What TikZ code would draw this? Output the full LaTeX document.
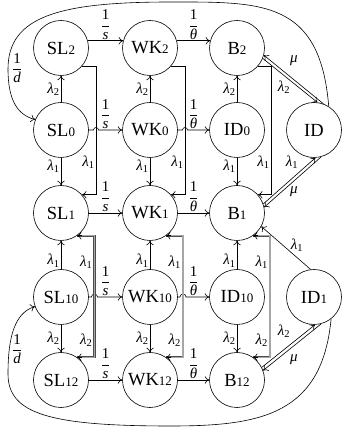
\documentclass[tikz,border=0pt]{standalone}
\usepackage{fontspec}
\setmainfont{Liberation Serif}
\usetikzlibrary{arrows.meta,calc}
\newcommand\nlab[2]{{\fontsize{18.5}{19}\selectfont #1}{\fontsize{13}{13}\selectfont #2}}
\newcommand\lam[1]{{\itshape λ}\textsubscript{#1}}
\newcommand\fr[1]{$\displaystyle\frac{\mbox{1}}{\mbox{\itshape #1}}$}
\begin{document}
\begin{tikzpicture}[x=1pt,y=1pt,
  st/.style={circle,draw,line width=0.6pt,minimum size=55pt,inner sep=0pt},
  arr/.style={line width=0.6pt,-{To[length=4.5pt,width=7.5pt]}},
  dbl/.style={line width=0.6pt,draw=black!70,double=black!35,double distance=1.3pt},
  lbl/.style={font=\fontsize{15}{17}\selectfont,inner sep=1pt},
]
\useasboundingbox (0,0) rectangle (342,441);
% columns and rows
\def\ca{61}\def\cb{150}\def\cc{237}\def\cd{314}
\def\ra{393}\def\rb{311}\def\rc{228}\def\rd{144}\def\re{61}
\node[st] (SL2) at (\ca,\ra) {\nlab{SL}{2}};
\node[st] (WK2) at (\cb,\ra) {\nlab{WK}{2}};
\node[st] (B2)  at (\cc,\ra) {\nlab{B}{2}};
\node[st] (SL0) at (\ca,\rb) {\nlab{SL}{0}};
\node[st] (WK0) at (\cb,\rb) {\nlab{WK}{0}};
\node[st] (ID0) at (\cc,\rb) {\nlab{ID}{0}};
\node[st] (ID)  at (\cd,\rb) {\nlab{ID}{}};
\node[st] (SL1) at (\ca,\rc) {\nlab{SL}{1}};
\node[st] (WK1) at (\cb,\rc) {\nlab{WK}{1}};
\node[st] (B1)  at (\cc,\rc) {\nlab{B}{1}};
\node[st] (SL10) at (\ca,\rd) {\nlab{SL}{10}};
\node[st] (WK10) at (\cb,\rd) {\nlab{WK}{10}};
\node[st] (ID10) at (\cc,\rd) {\nlab{ID}{10}};
\node[st] (ID1)  at (\cd,\rd) {\nlab{ID}{1}};
\node[st] (SL12) at (\ca,\re) {\nlab{SL}{12}};
\node[st] (WK12) at (\cb,\re) {\nlab{WK}{12}};
\node[st] (B12)  at (\cc,\re) {\nlab{B}{12}};
% vertical guide coordinates
\coordinate (xsl) at (96,0);   \coordinate (dsl) at (94.5,0);
\coordinate (xwk) at (185,0);  \coordinate (dwk) at (183,0);
\coordinate (xb)  at (271,0);  \coordinate (db)  at (270,0);
% horizontal arrows
\draw[arr] (SL2.15) -- node[lbl,above]{\fr{s}} (WK2.165);
\draw[arr] (WK2.15) -- node[lbl,above]{\fr{θ}} (B2.165);
\draw[arr] (SL0.east) -- ($(xsl |- SL0.east)+(-2.5,0)$) arc[start angle=180,end angle=0,radius=2.5] -- (WK0.west);
\node[lbl,above] (ls0) at ($(SL0.east)!.5!(WK0.west)$) {\fr{s}};
\draw[arr] (WK0.east) -- ($(xwk |- WK0.east)+(-2.5,0)$) arc[start angle=180,end angle=0,radius=2.5] -- (ID0.west);
\node[lbl,above] (lt0) at ($(WK0.east)!.5!(ID0.west)$) {\fr{θ}};
\draw[arr] (SL1) -- node[lbl,above]{\fr{s}} (WK1);
\draw[arr] (WK1) -- node[lbl,above]{\fr{θ}} (B1);
\draw[arr] (SL10.east) -- ($(dsl |- SL10.east)+(-3,0)$) arc[start angle=180,end angle=0,radius=3] -- (WK10.west);
\node[lbl,above] (ls10) at ($(SL10.east)!.5!(WK10.west)$) {\fr{s}};
\draw[arr] (WK10.east) -- ($(dwk |- WK10.east)+(-3,0)$) arc[start angle=180,end angle=0,radius=3] -- (ID10.west);
\node[lbl,above] (lt10) at ($(WK10.east)!.5!(ID10.west)$) {\fr{θ}};
\draw[arr] (SL12) -- node[lbl,above]{\fr{s}} (WK12);
\draw[arr] (WK12) -- node[lbl,above]{\fr{θ}} (B12);
% vertical arrows
\foreach \a/\b/\c/\d/\e in {SL0/SL2/SL1/SL10/SL12, WK0/WK2/WK1/WK10/WK12, ID0/B2/B1/ID10/B12}{
  \draw[arr] (\a) -- node[lbl,left,pos=.5]{\lam2} (\b);
  \draw[arr] (\a) -- node[lbl,left,pos=.3]{\lam1} (\c);
  \draw[arr] (\d) -- node[lbl,left,pos=.3]{\lam1} (\c);
  \draw[arr] (\d) -- node[lbl,left,pos=.5]{\lam2} (\e);
}
% L-shaped lambda1 arrows
\foreach \a/\b/\x in {SL2/SL1/xsl, WK2/WK1/xwk, B2/B1/xb}{
  \draw[arr] (\a.-41) -- (\a.-41 -| \x) |- node[lbl,left,pos=.375]{\lam1} (\b.41);
}
% double lines
\foreach \a/\b/\x in {SL1/SL12/dsl, WK1/WK12/dwk, B1/B12/db}{
  \draw[dbl] (\a.-55) -- (\a.-55 -| \x) -- (\b.55 -| \x) -- (\b.55);
  \draw[arr] ($(\a.-55)+(5,0)$) -- (\a.-55);
  \draw[arr] ($(\b.55)+(5,0)$) -- (\b.55);
  \node[lbl,left,xshift=-1pt] at ($(\a.-55 -| \x)!.22!(\b.55 -| \x)$) {\lam1};
  \node[lbl,left,xshift=-1pt] at ($(\a.-55 -| \x)!.86!(\b.55 -| \x)$) {\lam2};
}
% diagonal pairs
\draw[arr] (ID.70) -- (B2.-15);
\draw[arr] (B2.-22) -- (ID.83);
\node[lbl] (m1) at (294,380) {\itshape μ};
\node[lbl] (l1) at (284,354) {\lam2};
\draw[arr] (ID.-75) -- (B1.12);
\draw[arr] (B1.19) -- (ID.-87);
\node[lbl] (l2) at (292,279) {\lam1};
\node[lbl] (m2) at (294,249) {\itshape μ};
\draw[arr] (ID1.97) -- (B1.-29);
\node[lbl] (l3) at (297,196) {\lam1};
\draw[arr] (ID1.-75) -- (B12.20);
\draw[arr] (B12.27) -- (ID1.-88);
\node[lbl] (l4) at (284,110) {\lam2};
\node[lbl] (m4) at (294,81) {\itshape μ};
% outer loops
\draw[arr] (ID.58) .. controls (320,441) and (262,439) .. (171,439)
  .. controls (60,439) and (8,425) .. (8,372)
  .. controls (8,340) and (18,326) .. (SL0.158);
\node[lbl] (d1) at (17,373) {\fr{d}};
\draw[arr] (ID1.-52) .. controls (322,27) and (262,15) .. (171,15)
  .. controls (50,15) and (8,27) .. (8,67)
  .. controls (8,105) and (15,128) .. (SL10.200);
\node[lbl] (d2) at (17,92) {\fr{d}};
\end{tikzpicture}
\end{document}
